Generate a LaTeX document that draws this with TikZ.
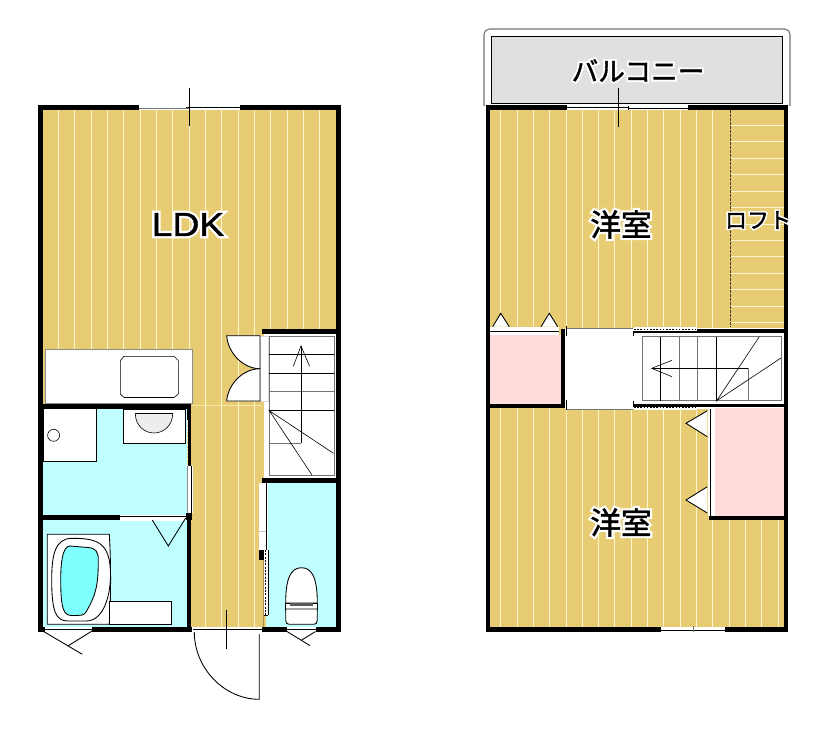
\documentclass[tikz,border=0pt]{standalone}
\usepackage{fontspec}
\setmainfont{Noto Sans CJK JP}
\newfontfamily\jphalo[FakeBold=16]{Noto Sans CJK JP}
\newfontfamily\jpink[FakeBold=1.5]{Noto Sans CJK JP}
\newfontfamily\lathalo[FakeBold=15,FakeStretch=1.12]{Liberation Sans}
\newfontfamily\latink[FakeBold=1.3,FakeStretch=1.12]{Liberation Sans}
\definecolor{wood}{HTML}{E8CC73}
\definecolor{plank}{HTML}{FFF6CC}
\definecolor{wetroom}{HTML}{BFFFFF}
\definecolor{closet}{HTML}{FFDCDC}
\definecolor{balc}{HTML}{E0E0E0}
\definecolor{water}{HTML}{80FFFF}
\tikzset{
  x=0.75pt,y=-0.75pt,
  thin line/.style={draw=black,line width=0.65pt},
  hair/.style={draw=black,line width=0.45pt},
  grayline/.style={draw=black!55,line width=0.5pt},
  wall/.style={fill=black,draw=none},
  plankline/.style={draw=plank,line width=0.72pt},
  halo/.style={inner sep=0pt,text=white},
  ink/.style={inner sep=0pt,text=black},
}
\begin{document}
\begin{tikzpicture}
\useasboundingbox (0,0) rectangle (828,733);
% ---------- LEFT PLAN fills ----------
\fill[wood] (43,110) rectangle (336,627);
\foreach \k in {0,...,16}{
  \draw[plankline] ({58.3+16.35*\k},110) -- ({58.3+16.35*\k},349);
}
\foreach \k in {9,10,11,12}{
  \draw[plankline] ({58.3+16.35*\k},349) -- ({58.3+16.35*\k},627);
}
\draw[plankline,draw opacity=.6] (192,405) -- (262,405);
\fill[wetroom] (43,408) rectangle (187,516);
\fill[wetroom] (43,520) rectangle (187,627);
\fill[wetroom] (266,483) rectangle (336,627);
% kitchen
\draw[fill=white,draw=black!45,line width=0.5pt] (45.3,349.3) rectangle (192.7,403.3);
\draw[fill=white,hair] (124,356.3) -- (174,356.3) -- (178.3,360.5) -- (178.3,394) -- (174,397.5) -- (124,397.5) -- (120.3,394) -- (120.3,360.5) -- cycle;
% washer, basin
\draw[fill=white,thin line] (43.5,408.5) rectangle (96.5,461.5);
\draw[hair] (53.6,435.3) circle (6);
\draw[fill=white,thin line] (123,409) rectangle (185,443);
\draw[fill=black!7,hair] (135.3,413.5) .. controls (135.3,425) and (144,433) .. (154,433) .. controls (164,433) and (172.7,425) .. (172.7,413.5) -- cycle;
% walls left plan
\fill[wall] (38,105) rectangle (138.3,110);
\fill[wall] (240.7,105) rectangle (341,110);
\fill[wall] (38,105) rectangle (43,632);
\fill[wall] (336,105) rectangle (341,632);
\fill[wall] (38,403.5) rectangle (191.3,408.5);
\fill[wall] (186.7,403.5) rectangle (191.3,420);
\fill[wall] (38,515) rectangle (120,520);
\fill[wall] (186.2,513) rectangle (191.8,520);
\fill[wall] (186.7,520) rectangle (191.3,632);
\fill[wall] (38,627) rectangle (45,632);
\fill[wall] (92,627) rectangle (191.7,632);
\fill[wall] (261.7,627) rectangle (287,632);
\fill[wall] (315.5,627) rectangle (341,632);
\fill[wall] (261.7,328.7) rectangle (341,334);
\fill[wall] (261.7,478.3) rectangle (336,483.3);
% dashed strip beside basin
\fill[wall] (188,420) rectangle (191.3,466);
\draw[white,line width=0.9pt,dash pattern=on 1.2pt off 1.4pt] (187.6,420) -- (187.6,466);
% wash room sliding door in right wall
\fill[white] (187,466) rectangle (193,513);
\draw[hair] (191.5,466) -- (191.5,513);
\draw[black!45,line width=0.4pt] (187,466) -- (187,513);
% door bath
\fill[white] (120,515) rectangle (186,521);
\draw[thin line] (120,516.3) -- (186,516.3);
\draw[thin line] (152.3,520) -- (168.3,546) -- (185.7,518);
% stair
\fill[white] (264,334) rectangle (336,478.3);
\draw[grayline,fill=white] (269.3,336) rectangle (334,475.3);
\draw[hair] (269.3,354.3) -- (334,354.3);
\draw[hair] (269.3,373.3) -- (334,373.3);
\draw[grayline] (269.3,391.7) -- (334,391.7);
\draw[hair] (269.3,410.7) -- (334,410.7);
\draw[grayline] (269.3,443.3) -- (301,443.3);
\draw[hair] (301,346) -- (301,443.3);
\draw[hair] (293.3,366.3) -- (301,346) -- (309.6,366.3);
\draw[hair] (333.5,453.3) -- (269.3,410.7) -- (312,475);
% double door
\fill[white] (260,336) rectangle (268,401);
\draw[black!15,line width=0.4pt] (260,336) rectangle (268,401);
\draw[thin line,fill=white] (260,335.7) -- (226.7,335.7) .. controls (228,353) and (243,368.7) .. (260,368.7) -- cycle;
\draw[thin line,fill=white] (260,368.7) .. controls (243,368.7) and (228,384) .. (226.7,401) -- (260,401) -- cycle;
% WC side door
\fill[white] (259.3,483) rectangle (268,550);
\draw[hair] (266.5,483) -- (266.5,550);
\draw[black!20,line width=0.4pt] (259.3,531) -- (266,531);
\fill[wall] (259.3,550) rectangle (266,560);
\fill[wood!70!black] (262.7,560) rectangle (264,627);
\fill[white] (264,550) rectangle (268,615);
\draw[hair] (267.8,550) -- (267.8,615);
\draw[black,line width=0.5pt,dash pattern=on 1.5pt off 1pt] (265,550) -- (265,615);
\draw[hair] (264,615) -- (268,615);
% bath
\draw[fill=white,thin line] (47.3,534.3) -- (109.3,534.3) .. controls (111,560) and (111,600) .. (109.3,624.3) -- (47.3,624.3) -- cycle;
\draw[fill=white,thin line] (109.3,601.7) rectangle (171,624.3);
\draw[fill=white,thin line] (51.7,580) .. controls (51.7,555) and (55,538.3) .. (72,538.3) .. controls (97,538.3) and (110.5,542) .. (110.5,575) .. controls (110.5,595) and (104,621) .. (86,621) -- (68,621) .. controls (56,621) and (51.7,612) .. (51.7,580) -- cycle;
\draw[fill=water,thin line] (60.7,580) .. controls (60.7,565) and (62,546) .. (70,546) -- (88,547.5) .. controls (96,548) and (98.3,552) .. (98.3,560) .. controls (98.3,585) and (96,595) .. (86,612) .. controls (84,615.5) and (80,615.5) .. (77,615.5) -- (72,615.5) .. controls (64,615.5) and (60.7,610) .. (60.7,580) -- cycle;
% toilet
\draw[fill=white,thin line] (285.7,603) .. controls (285.7,580) and (290,567.7) .. (301.5,567.7) .. controls (313,567.7) and (317.3,580) .. (317.3,603) -- cycle;
\draw[fill=white,thin line] (285.7,603) rectangle (317.3,610);
\draw[fill=white,thin line] (285.7,609) -- (285.7,620) .. controls (285.7,623) and (287,624.3) .. (289,624.3) -- (314,624.3) .. controls (316,624.3) and (317.3,623) .. (317.3,620) -- (317.3,609) -- cycle;
\fill[black!65] (290,602.5) rectangle (313,605.5);
% left plan windows / doors
\fill[white] (138.3,105) rectangle (240.7,110);
\draw[grayline] (138.3,108) -- (189.3,108);
\draw[thin line] (138.3,105) -- (138.3,110);
\draw[thin line] (189.3,107) -- (240.7,107);
\draw[hair] (189.3,88) -- (189.3,126);
\draw[hair] (186,107) -- (192.5,107);
\draw[thin line] (240.7,105) -- (240.7,110);
\fill[white] (45,627) rectangle (92,630);
\draw[hair] (45,629.5) -- (92,629.5);
\fill[white] (287,627) rectangle (315.5,630);
\draw[hair] (287,629.5) -- (315.5,629.5);
\draw[thin line] (44,631.7) -- (82.3,654.3);
\draw[thin line] (92,631) -- (68.3,645.7);
\draw[thin line] (287,631.5) -- (310,645.6);
\draw[thin line] (315.5,631.5) -- (301.7,640);
% entrance
\fill[white] (192.5,627) rectangle (262,631);
\draw[hair] (192.5,629.5) -- (262,629.5);
\draw[thin line] (194.3,632) .. controls (194.3,668) and (224,699.3) .. (259.3,699.3) -- (259.3,634);
\draw[hair] (226.7,610) -- (226.7,648.6);
% ---------- RIGHT PLAN ----------
\fill[wood] (490,110) rectangle (784,627);
\foreach \k in {0,...,13}{
  \draw[plankline] ({500.7+16.32*\k},110) -- ({500.7+16.32*\k},330);
}
\foreach \k in {0,...,17}{
  \draw[plankline] ({500.7+16.32*\k},408) -- ({500.7+16.32*\k},627);
}
\foreach \k in {0,...,12}{
  \draw[plankline] (731,{125.3+16.45*\k}) -- (784,{125.3+16.45*\k});
}
\draw[draw=black!70!wood,line width=0.6pt,dash pattern=on 2pt off 1pt] (730,110) -- (730,327);
% balcony
\draw[fill=white,draw=black!55,line width=0.8pt,rounded corners=4pt] (484,106) -- (484,29) -- (790,29) -- (790,106);
\draw[fill=balc,hair] (491.3,36) rectangle (782.7,103.3);
% hall & closets
\fill[white] (565,328) rectangle (784,409);
\fill[closet] (490,335) rectangle (561,404);
\fill[white] (490,327) rectangle (559,335);
\draw[hair] (490,331) -- (559,331);
\draw[thin line,fill=white] (492.7,326.7) -- (500.7,313.3) -- (509.3,326.7);
\draw[thin line,fill=white] (541,326.7) -- (549.3,313.3) -- (557.7,326.7);
\fill[closet] (715,408) rectangle (784,516);
\fill[white] (708,408) rectangle (715,516);
\draw[hair] (710.7,409) -- (710.7,516);
\draw[thin line,fill=white] (707.3,410.7) -- (686,423.3) -- (707.3,436.7);
\draw[thin line,fill=white] (707.3,486.7) -- (686,500) -- (707.3,513);
% stair right
\draw[grayline,fill=white] (642.3,336.7) rectangle (781,400.7);
\draw[hair] (660.3,336.7) -- (660.3,400.7);
\draw[grayline] (679.3,336.7) -- (679.3,400.7);
\draw[grayline] (697.7,336.7) -- (697.7,400.7);
\draw[hair] (716.7,336.7) -- (716.7,400.7);
\draw[hair] (651.7,368.3) -- (748.7,368.3);
\draw[grayline] (748.7,368.3) -- (748.7,400.7);
\draw[hair] (672,360.3) -- (651.7,368.3) -- (672,376.7);
\draw[hair] (759.3,336.7) -- (716.7,400.7) -- (781,358);
% right plan walls
\fill[wall] (485.7,105) rectangle (567.3,110);
\fill[wall] (687.7,105) rectangle (788,110);
\fill[wall] (485.7,105) rectangle (490,632);
\fill[wall] (784,105) rectangle (788,632);
\fill[wall] (485.7,627.3) rectangle (660.7,631.7);
\fill[wall] (725.3,627.3) rectangle (788,631.7);
\fill[wall] (560.7,329.3) rectangle (565,408.3);
\fill[wall] (485.7,404) rectangle (565,408.3);
\fill[wall] (634,330.5) rectangle (696.7,333.3);
\fill[wall] (696.7,329) rectangle (788,333.3);
\fill[wall] (634,404) rectangle (788,406.8);
\fill[wall] (709.3,515.7) rectangle (788,520);
% hall edges
\draw[grayline] (566.7,328) -- (633,328);
\draw[grayline] (566.7,409) -- (633,409);
\draw[hair] (566.7,326) -- (566.7,336);
\draw[hair] (566.7,400) -- (566.7,410);
\draw[hair] (633,331) -- (633,336);
\draw[hair] (633,401) -- (633,407);
\fill[white] (634,326.5) rectangle (696.7,330.5);
\draw[black,line width=0.6pt,dash pattern=on 1.2pt off 1.2pt] (634,329.5) -- (696.7,329.5);
\fill[white] (634,406.8) rectangle (696.7,410);
\draw[black,line width=0.6pt,dash pattern=on 1.2pt off 1.2pt] (634,407.6) -- (696.7,407.6);
% right plan windows
\fill[white] (567.3,104.5) rectangle (687.7,110);
\draw[thin line] (567.3,107) -- (628,107);
\draw[hair] (628,108) -- (687.7,108);
\draw[hair] (628,105.5) -- (628,110);
\draw[hair] (618.3,88) -- (618.3,126.7);
\fill[white] (660.7,627) rectangle (725.3,631.5);
\draw[thin line] (660.7,630) -- (725.3,630);
\draw[thin line] (660.7,627) -- (660.7,632);
\draw[thin line] (725.3,627) -- (725.3,632);
\draw[grayline] (693,626) -- (693,632);
% labels: white halo under each text
\node[halo] (ldkh) at (188,224.5) {\lathalo\fontsize{25pt}{27pt}\selectfont LDK};
\node[ink] (ldk) at (188,224.5) {\latink\fontsize{25pt}{27pt}\selectfont LDK};
\node[halo] (upperh) at (621,224.5) {\jphalo\fontsize{23pt}{25pt}\selectfont 洋室};
\node[ink] (upper) at (621,224.5) {\jpink\fontsize{23pt}{25pt}\selectfont 洋室};
\node[halo] (lowerh) at (621,522.5) {\jphalo\fontsize{23pt}{25pt}\selectfont 洋室};
\node[ink] (lower) at (621,522.5) {\jpink\fontsize{23pt}{25pt}\selectfont 洋室};
\node[halo] (balconyh) at (638,70.5) {\jphalo\fontsize{20pt}{22pt}\selectfont バルコニー};
\node[ink] (balcony) at (638,70.5) {\jpink\fontsize{20pt}{22pt}\selectfont バルコニー};
\node[halo] (lofth) at (758,220) {\jphalo\fontsize{16.5pt}{18pt}\selectfont ロフト};
\node[ink] (loft) at (758,220) {\jpink\fontsize{16.5pt}{18pt}\selectfont ロフト};
\end{tikzpicture}
\end{document}
